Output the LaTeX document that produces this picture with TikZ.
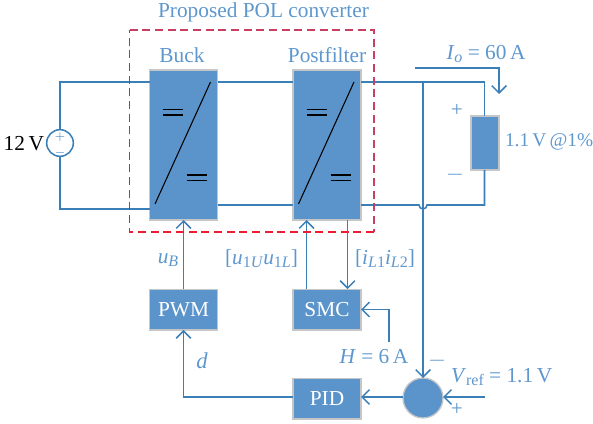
\documentclass[tikz,border=0pt]{standalone}
\usepackage{amsmath}
\usepackage{fontspec}
\setmainfont{Liberation Serif}
\usetikzlibrary{arrows.meta}
\definecolor{boxblue}{HTML}{5B94CB}
\definecolor{wireblue}{HTML}{3A7FB8}
\definecolor{textblue}{HTML}{5E97CE}
\definecolor{boxgray}{HTML}{C4C6C8}
\definecolor{dashred}{HTML}{EE1C30}
\definecolor{dashdark}{HTML}{C8405F}
\newcommand{\ital}[1]{\textit{#1}}
\newcommand{\sbs}[1]{\raisebox{-0.3ex}{\fontsize{12}{12}\selectfont #1}}
\tikzstyle{block}=[draw=boxgray, fill=boxblue, line width=1pt, inner sep=0, outer sep=0, text=white, font=\fontsize{16}{16}\selectfont]
\tikzstyle{conv}=[block, minimum width=51pt, minimum height=112.5pt]
\tikzstyle{ctrl}=[block, minimum width=51pt, minimum height=30.5pt]
\tikzstyle{lbl}=[inner sep=0, outer sep=0, text=textblue, font=\fontsize{16}{16}\selectfont]
\tikzstyle{pol}=[inner sep=0, outer sep=0, text=wireblue, font=\fontsize{10}{10}\selectfont]
\tikzstyle{wire}=[draw=wireblue, line width=1.15pt]
\tikzstyle{sig}=[wire, -{Straight Barb[length=5.5pt, width=11pt, line width=1.15pt]}]
\tikzstyle{symb}=[black, line width=0.8pt]
\tikzstyle{frame}=[line width=1.4pt, dash pattern=on 6pt off 3.5pt]
\begin{document}
\begin{tikzpicture}[x=0.75pt, y=-0.75pt]
        \useasboundingbox (0, 0) rectangle (593, 424);
        \node[lbl] (title) at (263.5, 12) {Proposed POL converter};
        \node[lbl] (lbuck) at (182, 55) {Buck};
        \node[lbl] (lpost) at (327, 55) {Postfilter};
        % power stage
        \node[conv] (buck) at (183.5, 145) {};
        \node[conv] (post) at (327, 145) {};
        \node[block, minimum width=21pt, minimum height=40.5pt] (load) at (485, 143) {};
        \node[circle, draw=wireblue, line width=1.15pt, inner sep=0, minimum size=20pt] (source) at (60, 143) {};
        \node[pol] (splus) at (60, 137.5) {\(+\)};
        \node[pol] (sminus) at (60, 153) {\(-\)};
        \node[lbl, text=black, anchor=east] (lsource) at (44, 144) {12\,V};
        \node[lbl, anchor=west, font=\fontsize{14.5}{14.5}\selectfont] (lload) at (505, 142) {1.1\,V\,@1\%};
        \node[lbl] (lplus) at (457, 110) {+};
        \node[lbl] (lminus) at (455, 175) {\(-\)};
        \node[lbl] (lio) at (486, 54) {\ital{I}\sbs{\ital{o}} = 60\,A};
        % control stage
        \node[ctrl] (pwm) at (183.5, 309.5) {PWM};
        \node[ctrl] (smc) at (327, 309.5) {SMC};
        \node[ctrl] (pid) at (327, 398.5) {PID};
        \node[circle, block, minimum size=30pt] (sum) at (423, 398) {};
        \node[lbl] (lub) at (168, 260) {\ital{u}\sbs{\ital{B}}};
        \node[lbl] (lu) at (261.5, 259) {[\ital{u}\sbs{1\ital{U}}\ital{u}\sbs{1\ital{L}}]};
        \node[lbl] (li) at (385, 259) {[\ital{i}\sbs{\ital{L}1}\ital{i}\sbs{\ital{L}2}]};
        \node[lbl] (lh) at (374, 357) {\ital{H} = 6\,A};
        \node[lbl, font=\fontsize{17}{17}\selectfont] (ld) at (202, 361) {\ital{d}};
        \node[lbl, anchor=west] (lref) at (451, 377) {\ital{V}\sbs{ref} = 1.1\,V};
        \node[lbl] (lm) at (437, 361) {\(-\)};
        \node[lbl] (lp) at (457, 409) {+};
        % wire end points
        \coordinate (top) at (484.5, 82);
        \coordinate (bot) at (484.5, 205);
        \coordinate (tap) at (423, 82);
        \coordinate (hopin) at (419, 205);
        \coordinate (ioa) at (415, 68);
        \coordinate (iob) at (499, 94);
        \coordinate (href) at (389, 342);
        \coordinate (vref) at (485, 397);
        % wires
        \draw[wire] (source.north) |- (buck.west |- top);
        \draw[wire] (source.south) |- (buck.west |- 0, 209);
        \draw[wire] (buck.east |- top) -- (post.west |- top);
        \draw[wire] (buck.east |- bot) -- (post.west |- bot);
        \draw[wire] (post.east |- top) -- (top) -- (load.north -| top);
        \draw[wire] (post.east |- bot) -- (hopin) arc[start angle=180, end angle=0, radius=4] -- (bot) -- (load.south -| bot);
        \draw[sig] (tap) -- (sum.north);
        \draw[sig] (ioa) -| (iob);
        \draw[sig] (pwm.north) -- (buck.south);
        \draw[sig] (smc.north -| 306.5, 0) -- (post.south -| 306.5, 0);
        \draw[sig] (post.south -| 347.5, 0) -- (smc.north -| 347.5, 0);
        \draw[sig] (href) |- (smc.east);
        \draw[sig] (pid.west |- vref) -| (pwm.south);
        \draw[sig] (sum.west |- vref) -- (pid.east |- vref);
        \draw[sig] (vref) -- (sum.east |- vref);
        % converter symbols
        \foreach \conv/\dx in {buck/0, post/143.5} {
            \draw[symb] (155+\dx, 204) -- (210.5+\dx, 82);
            \draw[symb] (163+\dx, 109.5) -- +(20, 0);
            \draw[symb] (163+\dx, 115) -- +(20, 0);
            \draw[symb] (187+\dx, 175) -- +(20, 0);
            \draw[symb] (187+\dx, 180.5) -- +(20, 0);
        }
        \draw[frame, dashdark] (129.5, 30) -- (374, 30) -- (374, 232);
        \draw[frame, dashred] (374, 232) -- (129.5, 232) -- (129.5, 30);
    \end{tikzpicture}
\end{document}
